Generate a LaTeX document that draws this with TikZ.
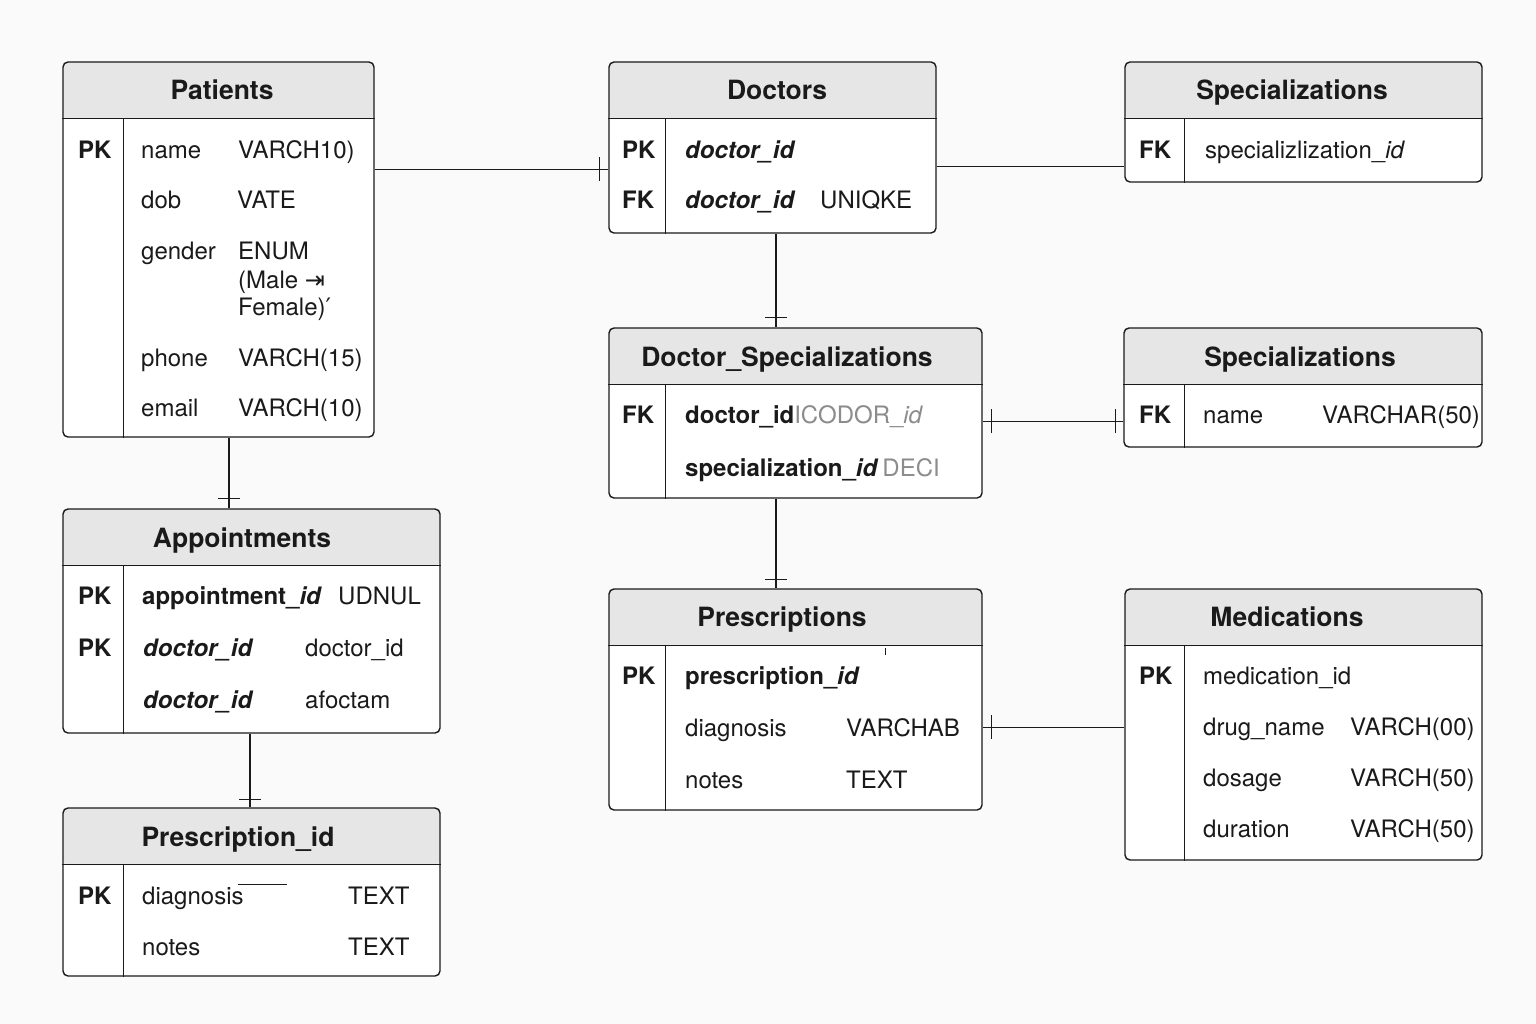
\documentclass[tikz,border=0pt]{standalone}
\usepackage{fontspec}
\setmainfont{TeX Gyre Heros}
\newfontfamily\symfont{DejaVu Sans}
\usepackage{tikz}

\definecolor{hdrgray}{HTML}{E6E6E6}
\definecolor{inkc}{HTML}{1A1A1A}
\definecolor{ghost}{HTML}{8C8C8C}
\newcommand\fldfont{\fontsize{24}{28}\selectfont}
\newcommand\ttlfont{\fontsize{26.5}{30}\selectfont\bfseries}

\tikzset{
  tbox/.style={draw=inkc, line width=1.4pt, rounded corners=5pt, fill=white, inner sep=0pt,
    path picture={\fill[hdrgray] (path picture bounding box.north west) rectangle ([yshift=-57pt]path picture bounding box.north east);}},
  sep/.style={draw=inkc, line width=1.3pt},
  conn/.style={draw=inkc, line width=1.4pt},
  fld/.style={font=\fldfont, text=inkc, inner sep=0pt, anchor=base west},
  ttl/.style={font=\ttlfont, text=inkc, inner sep=0pt, anchor=base},
}

\begin{document}
\begin{tikzpicture}[x=1pt, y=-1pt]
        \useasboundingbox[fill=black!2] (0,0) rectangle (1536,1024);

        % tables
        \foreach \n/\cx/\cy/\w/\h/\dx in {pat/218.5/249.5/311/375/61, doc/772.5/147.5/327/171/57,
            spA/1303.5/122/357/120/60, dsp/795.5/413/373/170/57, spB/1303/387.5/358/119/61,
            app/251.5/621/377/224/61, pid/251.5/892/377/168/61, pre/795.5/699.5/373/221/57,
            med/1303.5/724.5/357/271/60} {
          \node[tbox, minimum width=\w, minimum height=\h] (\n) at (\cx,\cy) {};
          \draw[sep] ([yshift=-57pt]\n.north west) -- ([yshift=-57pt]\n.north east);
          \draw[sep] ([xshift=\dx pt,yshift=-57pt]\n.north west) -- ([xshift=\dx pt]\n.south west);
        }

        % Patients
        \node[ttl] (patT) at (222,100) {Patients};
        \node[fld, font=\fldfont\bfseries] (patK) at (78,158.5) {PK};
        \node[fld] (patF1) at (141,158.5) {name};
        \node[fld] (patY1) at (238,158.5) {VARCH10)};
        \node[fld] (patF2) at (141,209) {dob};
        \node[fld] (patY2) at (237,209) {VATE};
        \node[fld] (patF3) at (141,259.5) {gender};
        \node[fld] (patY3) at (238,259.5) {ENUM};
        \node[fld] (patY3b) at (238,288) {(Male {\symfont\fontsize{24}{28}\selectfont ⇥}};
        \node[fld] (patY3c) at (238,316) {Female){\symfont ′}};
        \node[fld] (patF4) at (141,366) {phone};
        \node[fld] (patY4) at (238,366) {VARCH(15)};
        \node[fld] (patF5) at (141,416.5) {email};
        \node[fld] (patY5) at (238,416.5) {VARCH(10)};

        % Doctors
        \node[ttl] (docT) at (777,100) {Doctors};
        \node[fld, font=\fldfont\bfseries] (docK1) at (622,158.5) {PK};
        \node[fld, font=\fldfont\bfseries\itshape] (docF1) at (685,158.5) {doctor\_id};
        \node[fld, font=\fldfont\bfseries] (docK2) at (622,209) {FK};
        \node[fld, font=\fldfont\bfseries\itshape] (docF2) at (685,209) {doctor\_id};
        \node[fld] (docY2) at (820,209) {UNIQKE};

        % Specializations (top)
        \node[ttl] (spAT) at (1292,100) {Specializations};
        \node[fld, font=\fldfont\bfseries] (spAK) at (1139,158.5) {FK};
        \node[fld] (spAF) at (1205,158.5) {specializlization\_\textit{id}};

        % Doctor_Specializations
        \node[ttl] (dspT) at (787,366) {Doctor\_Specializations};
        \node[fld, font=\fldfont\bfseries] (dspK) at (622,423.5) {FK};
        \node[fld] (dspF1) at (685,423.5) {\textbf{doctor\_id}{\color{ghost}ICODOR\_\textit{id}}};
        \node[fld] (dspF2) at (685,476) {\textbf{specialization\_\textit{id}}\,{\color{ghost}DECI}};

        % Specializations (name)
        \node[ttl] (spBT) at (1300,366) {Specializations};
        \node[fld, font=\fldfont\bfseries] (spBK) at (1139,423.5) {FK};
        \node[fld] (spBF) at (1203,423.5) {name};
        \node[fld] (spBY) at (1322,423.5) {VARCHAR(50)};

        % Appointments
        \node[ttl] (appT) at (242,547) {Appointments};
        \node[fld, font=\fldfont\bfseries] (appK1) at (78,604.5) {PK};
        \node[fld] (appF1) at (142,604.5) {\textbf{appointment\_\textit{id}}};
        \node[fld] (appY1) at (338,604.5) {UDNUL};
        \node[fld, font=\fldfont\bfseries] (appK2) at (78,656.5) {PK};
        \node[fld, font=\fldfont\bfseries\itshape] (appF2) at (143,656.5) {doctor\_id};
        \node[fld] (appY2) at (305,656.5) {doctor\_id};
        \node[fld, font=\fldfont\bfseries\itshape] (appF3) at (143,708.5) {doctor\_id};
        \node[fld] (appY3) at (305,708.5) {afoctam};

        % Prescription_id
        \node[ttl] (pidT) at (238,846) {Prescription\_id};
        \node[fld, font=\fldfont\bfseries] (pidK) at (78,904.5) {PK};
        \node[fld] (pidF1) at (142,904.5) {diagnosis};
        \node[fld] (pidY1) at (348,904.5) {TEXT};
        \node[fld] (pidF2) at (142,955.5) {notes};
        \node[fld] (pidY2) at (348,955.5) {TEXT};
        \draw[conn] ([xshift=96pt,yshift=20pt]pidF1.base west) -- ++(49,0);

        % Prescriptions
        \node[ttl] (preT) at (782,626) {Prescriptions};
        \node[fld, font=\fldfont\bfseries] (preK) at (622,684.5) {PK};
        \node[fld] (preF1) at (685,684.5) {\textbf{prescription\_\textit{id}}};
        \node[fld] (preF2) at (685,736.5) {diagnosis};
        \node[fld] (preY2) at (846,736.5) {VARCHAB};
        \node[fld] (preF3) at (685,788.5) {notes};
        \node[fld] (preY3) at (846,788.5) {TEXT};
        \draw[draw=inkc, line width=0.8pt] ([xshift=200pt,yshift=30pt]preF1.base west) -- ++(0,-7);

        % Medications
        \node[ttl] (medT) at (1287,626) {Medications};
        \node[fld, font=\fldfont\bfseries] (medK) at (1139,684.5) {PK};
        \node[fld] (medF1) at (1203,684.5) {medication\_id};
        \node[fld] (medF2) at (1203,735.5) {drug\_name};
        \node[fld] (medY2) at (1350,735.5) {VARCH(00)};
        \node[fld] (medF3) at (1203,786.5) {dosage};
        \node[fld] (medY3) at (1350,786.5) {VARCH(50)};
        \node[fld] (medF4) at (1203,837.5) {duration};
        \node[fld] (medY4) at (1350,837.5) {VARCH(50)};

        % connectors
        \draw[conn] ([yshift=-108pt]pat.north east) to ([yshift=-108pt]doc.north west);
        \draw[conn] ([xshift=-9pt,yshift=-96pt]doc.north west) to ([xshift=-9pt,yshift=-120pt]doc.north west);

        \draw[conn] ([yshift=-105pt]doc.north east) to ([yshift=-105pt]spA.north west);

        \coordinate (d1) at ([xshift=3.5pt]doc.south);
        \coordinate (d2) at (d1 |- dsp.north);
        \draw[conn] (d1) to (d2);
        \draw[conn] ([xshift=-11pt,yshift=10pt]d2) to ([xshift=11pt,yshift=10pt]d2);

        \draw[conn] ([yshift=-94pt]dsp.north east) to ([yshift=-94pt]spB.north west);
        \draw[conn] ([xshift=9pt,yshift=-82pt]dsp.north east) to ([xshift=9pt,yshift=-106pt]dsp.north east);
        \draw[conn] ([xshift=-8pt,yshift=-82pt]spB.north west) to ([xshift=-8pt,yshift=-106pt]spB.north west);

        \coordinate (s1) at ([xshift=-19.5pt]dsp.south);
        \coordinate (s2) at (s1 |- pre.north);
        \draw[conn] (s1) to (s2);
        \draw[conn] ([xshift=-11pt,yshift=9pt]s2) to ([xshift=11pt,yshift=9pt]s2);

        \draw[conn] ([yshift=-139pt]pre.north east) to ([yshift=-139pt]med.north west);
        \draw[conn] ([xshift=9pt,yshift=-127pt]pre.north east) to ([xshift=9pt,yshift=-151pt]pre.north east);

        \coordinate (p1) at ([xshift=10.5pt]pat.south);
        \coordinate (p2) at (p1 |- app.north);
        \draw[conn] (p1) to (p2);
        \draw[conn] ([xshift=-11pt,yshift=10pt]p2) to ([xshift=11pt,yshift=10pt]p2);

        \coordinate (a1) at ([xshift=-1.5pt]app.south);
        \coordinate (a2) at (a1 |- pid.north);
        \draw[conn] (a1) to (a2);
        \draw[conn] ([xshift=-11pt,yshift=8pt]a2) to ([xshift=11pt,yshift=8pt]a2);
      \end{tikzpicture}
\end{document}
